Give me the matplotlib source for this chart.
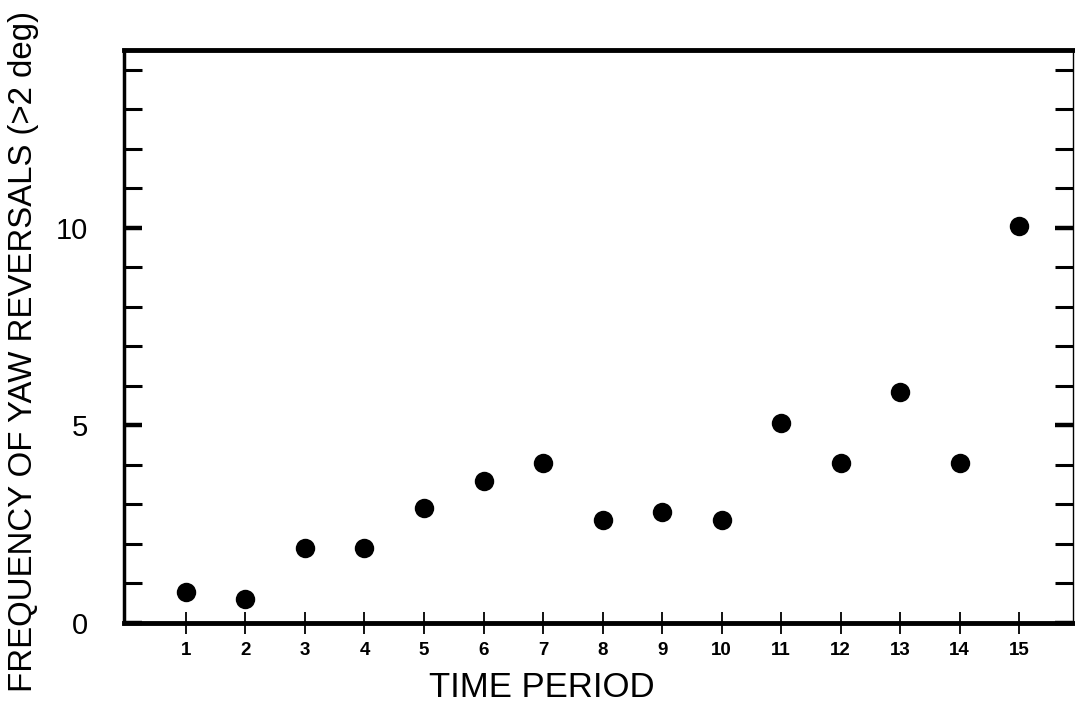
import matplotlib
matplotlib.use("Agg")
import matplotlib.pyplot as plt
from matplotlib.ticker import MultipleLocator, FixedLocator

plt.rcParams['font.family'] = ['Liberation Sans', 'DejaVu Sans']

# yaw reversal counts per time period
period = [1, 2, 3, 4, 5, 6, 7, 8, 9, 10, 11, 12, 13, 14, 15]
reversals = [0.78, 0.6, 1.9, 1.9, 2.9, 3.6, 4.05, 2.6, 2.8, 2.6, 5.05, 4.05, 5.85, 4.05, 10.05]

fig = plt.figure(figsize=(10.75, 7.11), dpi=100)
ax = fig.add_axes([0.1153, 0.1238, 0.8827, 0.8059])

ax.plot(period, reversals, 'o', color='black', markersize=14, markeredgewidth=0)

ax.set_xlim(-0.04, 15.9)
ax.set_ylim(0, 14.5)

# x axis: ticks crossing the line, small labels
ax.xaxis.set_major_locator(FixedLocator(period))
ax.tick_params(axis='x', direction='inout', length=16, width=1.3, pad=6,
               labelsize=13.5)
for lab in ax.get_xticklabels():
    lab.set_fontweight('bold')

# y axis: labels at 0/5/10, inward ticks every unit on both sides
ax.yaxis.set_major_locator(MultipleLocator(5))
ax.yaxis.set_minor_locator(MultipleLocator(1))
ax.tick_params(axis='y', which='major', direction='in', length=13, width=3.2,
               left=True, right=True, labelsize=21, pad=26)
ax.tick_params(axis='y', which='minor', direction='in', length=13, width=2.2,
               left=True, right=True)

ax.spines['bottom'].set_linewidth(3.5)
ax.spines['top'].set_linewidth(3.5)
ax.spines['left'].set_linewidth(2.5)
ax.spines['right'].set_linewidth(1.0)

ax.set_xlabel('TIME PERIOD', fontsize=25)
ax.xaxis.set_label_coords(0.44, -0.129, transform=ax.transAxes)
ax.xaxis.label.set_verticalalignment('baseline')

ax.set_ylabel('FREQUENCY OF YAW REVERSALS (>2 deg)', fontsize=23.8)
ax.yaxis.set_label_coords(-0.106, 0.473, transform=ax.transAxes)
ax.yaxis.label.set_verticalalignment('center')

fig.savefig('out.png', dpi=100)
